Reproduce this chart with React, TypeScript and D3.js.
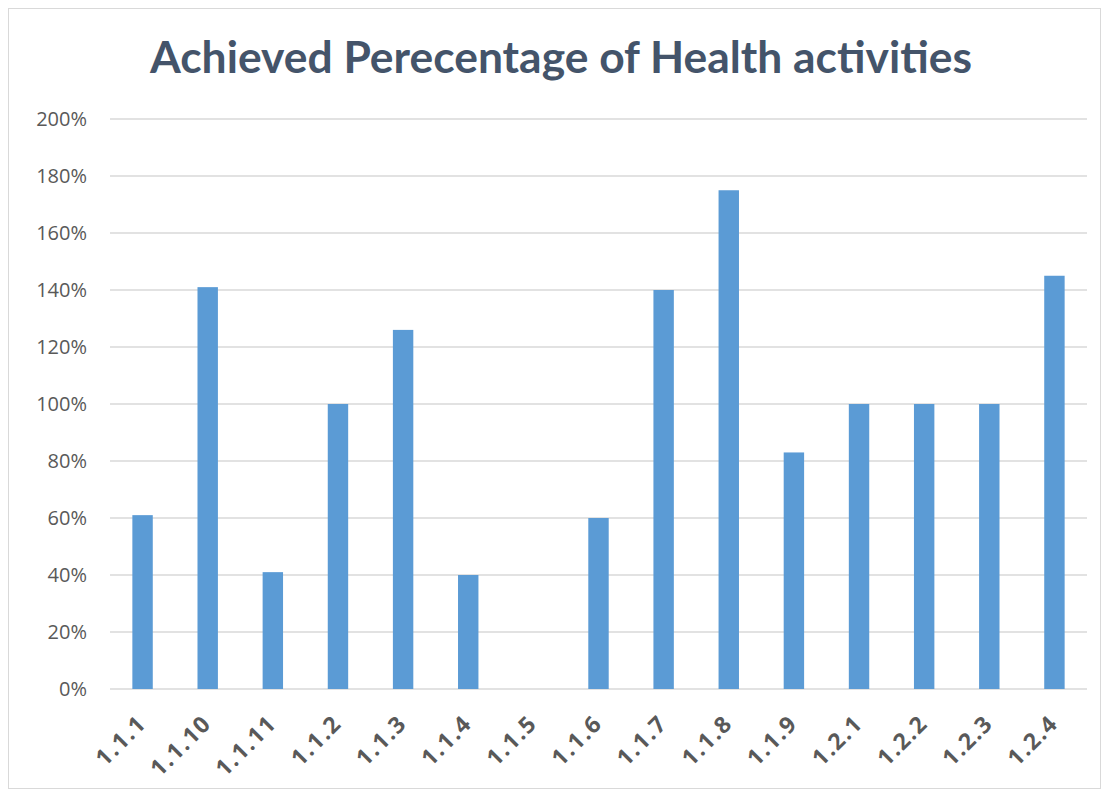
import { useEffect, useRef } from 'react';
import * as d3 from 'd3';

const categories = ['1.1.1', '1.1.10', '1.1.11', '1.1.2', '1.1.3', '1.1.4', '1.1.5', '1.1.6', '1.1.7', '1.1.8', '1.1.9', '1.2.1', '1.2.2', '1.2.3', '1.2.4'];
const achieved = [0.61, 1.41, 0.41, 1.0, 1.26, 0.4, 0, 0.6, 1.4, 1.75, 0.83, 1.0, 1.0, 1.0, 1.45];
const yTicks = [0, 0.2, 0.4, 0.6, 0.8, 1.0, 1.2, 1.4, 1.6, 1.8, 2.0];
const title = 'Achieved Perecentage of Health activities';

const App = () => {
  const ref = useRef<SVGSVGElement>(null);

  useEffect(() => {
    const width = 1108;
    const height = 794;
    const left = 110;
    const right = 1087;
    const top = 119;
    const bottom = 689;

    const svg = d3.select(ref.current);
    svg.selectAll('*').remove();

    // chart frame
    svg
      .append('rect')
      .attr('x', 8.5)
      .attr('y', 8.5)
      .attr('width', 1092)
      .attr('height', 780)
      .attr('fill', 'white')
      .attr('stroke', '#d9d9d9')
      .attr('stroke-width', 1);

    svg
      .append('text')
      .attr('x', 561)
      .attr('y', 73)
      .attr('text-anchor', 'middle')
      .attr('font-family', 'Lato, "Open Sans", sans-serif')
      .attr('font-weight', 700)
      .attr('font-size', 44)
      .attr('fill', '#44546a')
      .attr('textLength', 822)
      .attr('lengthAdjust', 'spacingAndGlyphs')
      .text(title);

    const x = d3.scaleBand().domain(categories).range([left, right]);
    const y = d3.scaleLinear().domain([0, 2]).range([bottom, top]);
    const barWidth = x.bandwidth() / 3.19;

    const grid = svg.append('g');
    grid
      .selectAll('line')
      .data(yTicks)
      .enter()
      .append('line')
      .attr('x1', left)
      .attr('x2', right)
      .attr('y1', (d) => y(d))
      .attr('y2', (d) => y(d))
      .attr('stroke', '#d9d9d9')
      .attr('stroke-width', 1.5);

    grid
      .selectAll('text')
      .data(yTicks)
      .enter()
      .append('text')
      .attr('x', 87)
      .attr('y', (d) => y(d))
      .attr('dy', '0.35em')
      .attr('text-anchor', 'end')
      .attr('font-family', '"Open Sans", sans-serif')
      .attr('font-size', 20)
      .attr('fill', '#595959')
      .text((d) => d3.format('.0%')(d));

    svg
      .append('g')
      .selectAll('rect')
      .data(achieved)
      .enter()
      .append('rect')
      .attr('x', (d, i) => x(categories[i])! + (x.bandwidth() - barWidth) / 2)
      .attr('y', (d) => y(d))
      .attr('width', barWidth)
      .attr('height', (d) => bottom - y(d))
      .attr('fill', '#5b9bd5');

    svg
      .append('g')
      .selectAll('text')
      .data(categories)
      .enter()
      .append('text')
      .attr('transform', (d) => `translate(${x(d)! + x.bandwidth() / 2 + 5},725) rotate(-45)`)
      .attr('text-anchor', 'end')
      .attr('font-family', '"Open Sans", sans-serif')
      .attr('font-weight', 700)
      .attr('font-size', 23)
      .attr('letter-spacing', 1.5)
      .attr('fill', '#595959')
      .text((d) => d);

    svg.attr('width', width).attr('height', height);
  }, []);

  return <svg ref={ref} style={{ position: 'absolute', left: 0, top: 0, display: 'block' }} />;
};

export default App;
